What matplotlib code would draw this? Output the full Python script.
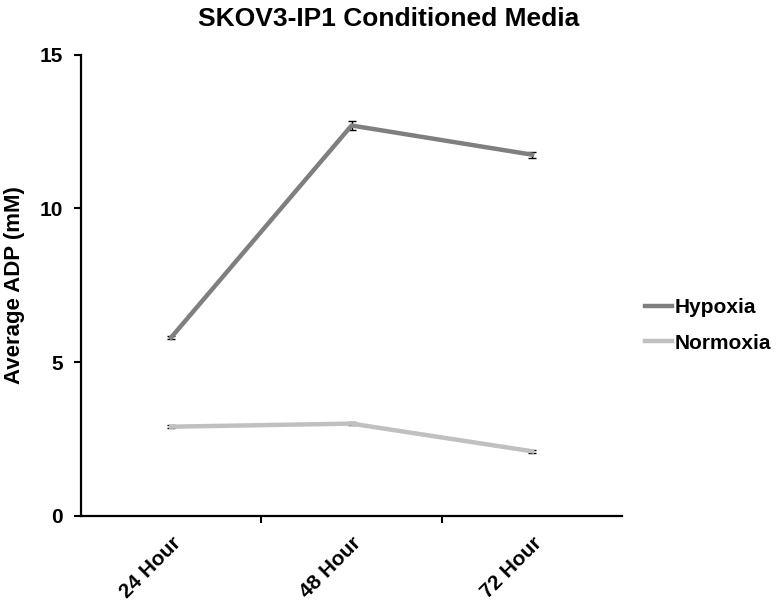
import matplotlib
matplotlib.use('Agg')
import matplotlib.pyplot as plt
import matplotlib.transforms as mtransforms
from matplotlib.lines import Line2D
import numpy as np

plt.rcParams['font.family'] = ['Liberation Sans', 'DejaVu Sans']
plt.rcParams['font.weight'] = 'bold'

time_points = ['24 Hour', '48 Hour', '72 Hour']
hypoxia = [5.8, 12.7, 11.75]
hypoxia_err = [0.05, 0.15, 0.1]
normoxia = [2.9, 3.0, 2.1]
normoxia_err = [0.04, 0.06, 0.04]

hyp_color = '#7f7f7f'
norm_color = '#c0c0c0'

fig = plt.figure(figsize=(7.77, 6.09), dpi=100)
ax = fig.add_axes([0.104, 0.153, 0.697, 0.757])

x = np.arange(len(time_points))
ax.errorbar(x, hypoxia, yerr=hypoxia_err, color=hyp_color, lw=3.2,
            ecolor='black', elinewidth=1, capsize=3)
ax.errorbar(x, normoxia, yerr=normoxia_err, color=norm_color, lw=3.2,
            ecolor='black', elinewidth=1, capsize=3)

ax.set_xlim(-0.5, 2.5)
ax.set_ylim(0, 15)
ax.set_yticks([0, 5, 10, 15])
ax.set_xticks([0.5, 1.5])
ax.set_xticklabels([])
ax.set_xticks(x, minor=True)
ax.set_xticklabels(time_points, minor=True, rotation=45, ha='right',
                   rotation_mode='anchor', fontsize=15, fontweight='bold')
# nudge the slanted labels a little to the left
shift = mtransforms.ScaledTranslation(-5 / 100, 0, fig.dpi_scale_trans)
for lbl in ax.get_xticklabels(minor=True):
    lbl.set_transform(lbl.get_transform() + shift)
ax.tick_params(axis='x', which='minor', length=0, pad=13)
ax.tick_params(axis='x', which='major', direction='out', length=5, width=1.5)
ax.tick_params(axis='y', direction='out', length=5, width=1.5, labelsize=15, pad=8)
for lbl in ax.get_yticklabels():
    lbl.set_fontweight('bold')

for side in ['top', 'right']:
    ax.spines[side].set_visible(False)
for side in ['left', 'bottom']:
    ax.spines[side].set_linewidth(1.6)

ax.set_ylabel('Average ADP (mM)', fontsize=16, fontweight='bold', labelpad=10)
fig.text(0.5, 0.968, 'SKOV3-IP1 Conditioned Media', fontsize=19,
         fontweight='bold', ha='center', va='center')

handles = [Line2D([], [], color=hyp_color, lw=3.2),
           Line2D([], [], color=norm_color, lw=3.2)]
ax.legend(handles, ['Hypoxia', 'Normoxia'], loc='center left',
          bbox_to_anchor=(1.042, 0.413), frameon=False, fontsize=15,
          handlelength=1.3, handletextpad=0.12, labelspacing=0.78,
          borderaxespad=0, borderpad=0)

fig.savefig('out.png', dpi=100)
